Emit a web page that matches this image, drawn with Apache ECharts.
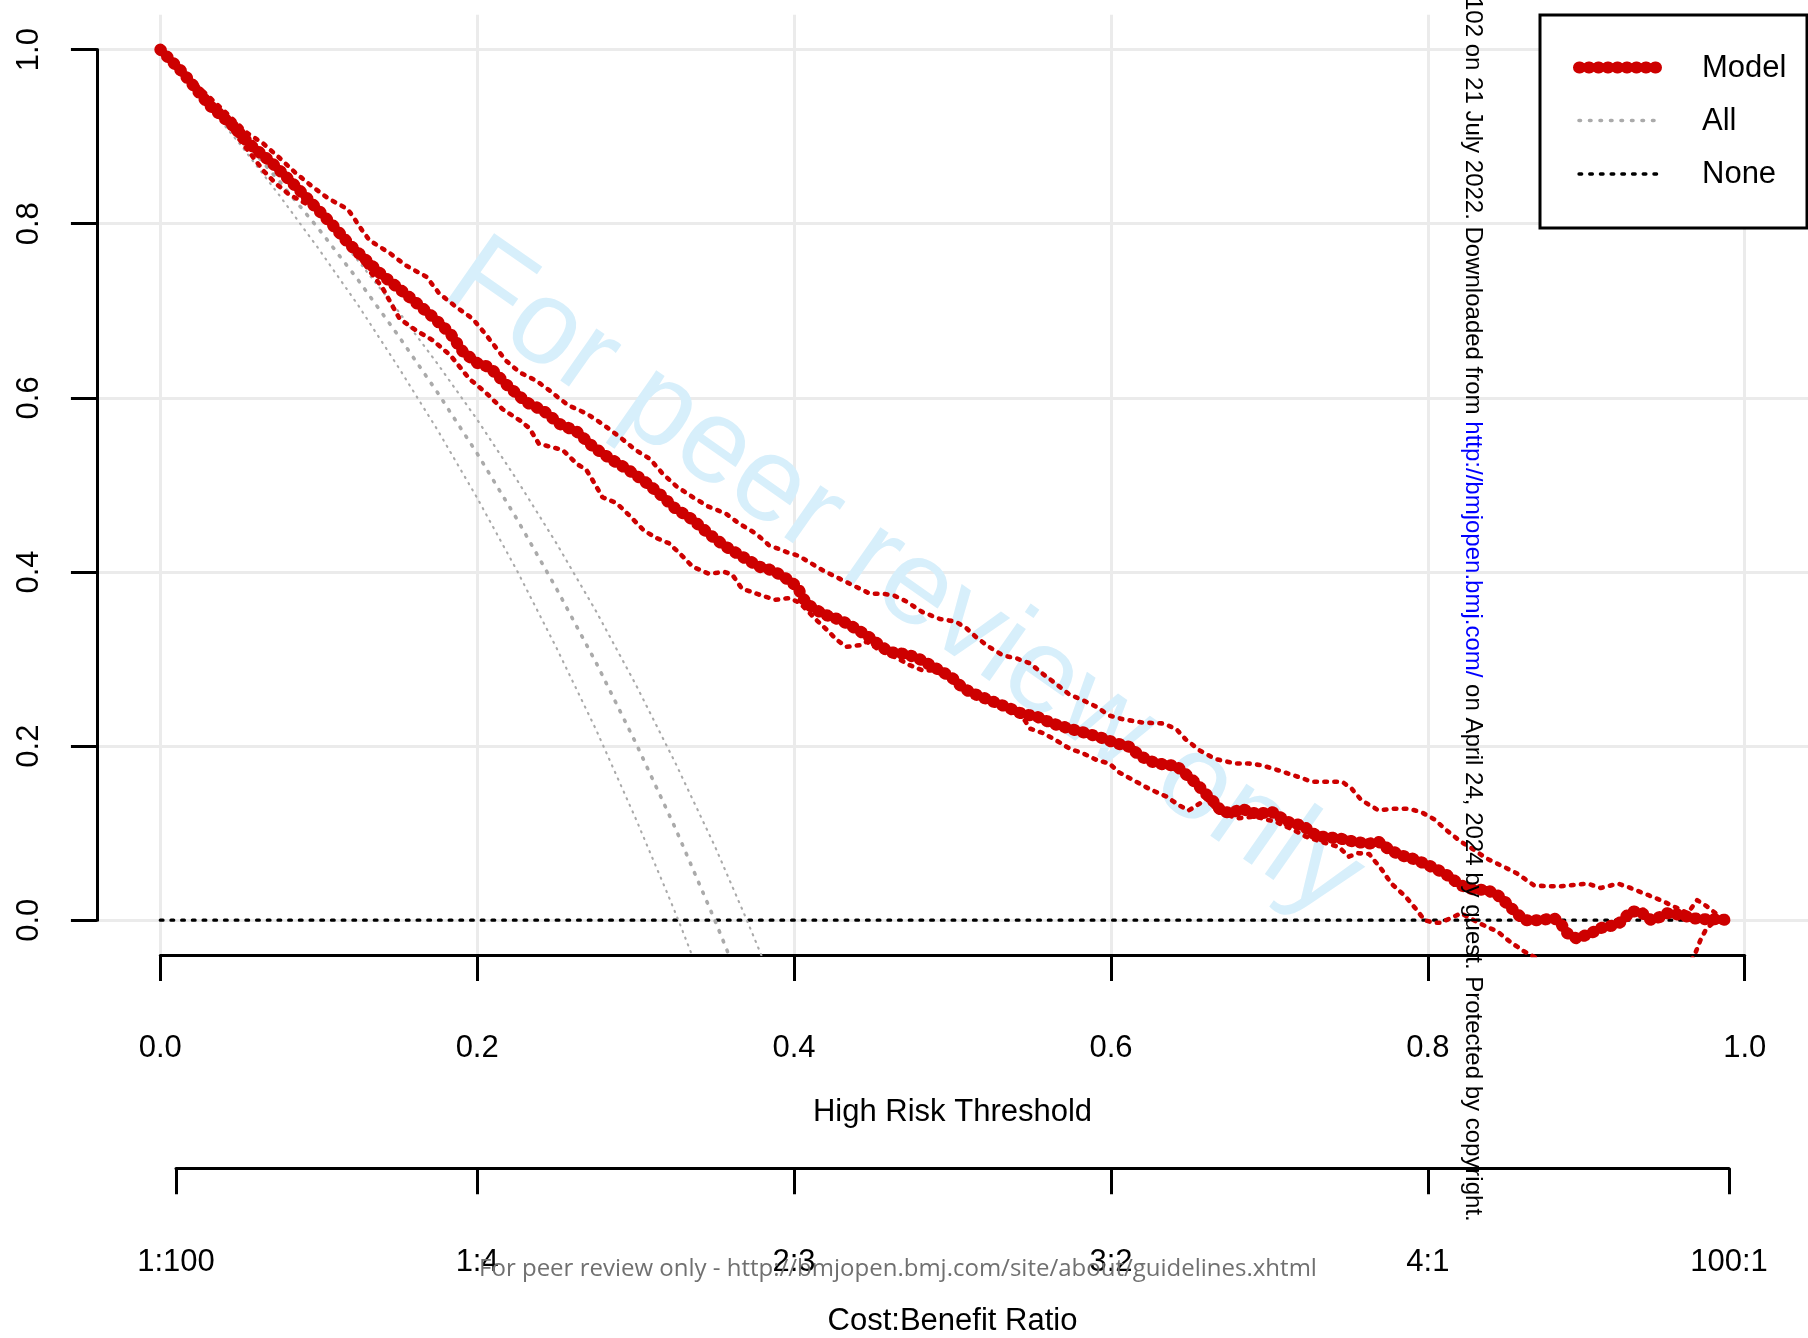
<!DOCTYPE html>
<html><head><meta charset="utf-8">
<script src="https://cdn.jsdelivr.net/npm/echarts@6/dist/echarts.min.js"></script>
<style>html,body{margin:0;padding:0;background:#fff}#c{width:1808px;height:1338px}</style>
</head><body><div id="c"></div>
<script>
// ---------- data ----------
const thresholdTicks = [0, 0.2, 0.4, 0.6, 0.8, 1.0];
const cbRatioLabels = ['1:100', '1:4', '2:3', '3:2', '4:1', '100:1'];
const cbRatioPositions = [1/101, 0.2, 0.4, 0.6, 0.8, 100/101];
const legendLabels = ['Model', 'All', 'None'];

const modelNB = [[0,1.0],[0.014,0.974],[0.031,0.936],[0.048,0.909],[0.056,0.892],[0.071,0.869],[0.086,0.842],[0.098,0.819],[0.109,0.798],[0.119,0.777],[0.130,0.758],[0.140,0.741],[0.151,0.725],[0.161,0.710],[0.172,0.693],[0.183,0.674],[0.191,0.653],[0.200,0.640],[0.208,0.635],[0.218,0.616],[0.231,0.595],[0.242,0.585],[0.252,0.570],[0.263,0.561],[0.273,0.544],[0.284,0.530],[0.294,0.519],[0.305,0.505],[0.315,0.490],[0.325,0.473],[0.336,0.460],[0.346,0.444],[0.357,0.429],[0.367,0.418],[0.378,0.406],[0.386,0.402],[0.393,0.395],[0.397,0.390],[0.402,0.383],[0.406,0.369],[0.412,0.358],[0.421,0.350],[0.429,0.345],[0.437,0.337],[0.446,0.327],[0.454,0.316],[0.460,0.308],[0.469,0.306],[0.477,0.302],[0.486,0.293],[0.494,0.285],[0.500,0.278],[0.507,0.266],[0.515,0.259],[0.523,0.253],[0.534,0.245],[0.544,0.237],[0.553,0.234],[0.563,0.226],[0.574,0.220],[0.584,0.215],[0.595,0.209],[0.602,0.204],[0.612,0.199],[0.618,0.189],[0.626,0.182],[0.635,0.178],[0.641,0.178],[0.647,0.168],[0.654,0.157],[0.660,0.145],[0.666,0.134],[0.670,0.124],[0.677,0.124],[0.683,0.128],[0.689,0.123],[0.698,0.123],[0.702,0.124],[0.708,0.117],[0.714,0.111],[0.721,0.109],[0.727,0.100],[0.733,0.096],[0.744,0.094],[0.754,0.090],[0.763,0.088],[0.769,0.090],[0.775,0.082],[0.782,0.075],[0.790,0.071],[0.798,0.065],[0.804,0.060],[0.812,0.052],[0.821,0.040],[0.829,0.035],[0.837,0.035],[0.844,0.029],[0.850,0.019],[0.856,0.008],[0.861,0.000],[0.869,0.000],[0.880,0.002],[0.884,-0.004],[0.888,-0.015],[0.894,-0.021],[0.903,-0.015],[0.909,-0.009],[0.917,-0.006],[0.922,-0.002],[0.928,0.010],[0.934,0.010],[0.941,0.000],[0.947,0.004],[0.951,0.008],[0.960,0.006],[0.968,0.002],[0.976,0.001],[0.985,0.001],[0.989,0.000]];

const modelUpper = [[0,1.0],[0.02,0.964],[0.04,0.930],[0.055,0.904],[0.065,0.892],[0.075,0.876],[0.085,0.859],[0.095,0.844],[0.106,0.829],[0.118,0.817],[0.121,0.810],[0.126,0.796],[0.132,0.781],[0.145,0.766],[0.155,0.752],[0.168,0.739],[0.176,0.720],[0.187,0.704],[0.197,0.691],[0.204,0.676],[0.210,0.662],[0.218,0.643],[0.227,0.629],[0.237,0.620],[0.246,0.608],[0.252,0.599],[0.258,0.591],[0.269,0.582],[0.279,0.570],[0.290,0.555],[0.300,0.540],[0.309,0.530],[0.317,0.513],[0.326,0.498],[0.336,0.486],[0.346,0.475],[0.357,0.467],[0.365,0.456],[0.376,0.444],[0.384,0.431],[0.395,0.423],[0.402,0.419],[0.408,0.413],[0.418,0.402],[0.429,0.392],[0.439,0.383],[0.448,0.375],[0.456,0.375],[0.463,0.373],[0.471,0.366],[0.481,0.354],[0.492,0.346],[0.502,0.343],[0.509,0.335],[0.515,0.325],[0.523,0.314],[0.532,0.304],[0.540,0.301],[0.549,0.295],[0.557,0.283],[0.565,0.272],[0.574,0.259],[0.582,0.253],[0.591,0.245],[0.599,0.235],[0.607,0.231],[0.620,0.227],[0.633,0.226],[0.641,0.220],[0.647,0.208],[0.656,0.195],[0.666,0.185],[0.679,0.180],[0.687,0.180],[0.695,0.178],[0.706,0.172],[0.716,0.166],[0.727,0.159],[0.737,0.159],[0.746,0.159],[0.752,0.151],[0.758,0.138],[0.769,0.126],[0.777,0.128],[0.788,0.128],[0.796,0.124],[0.804,0.116],[0.812,0.103],[0.821,0.090],[0.829,0.081],[0.837,0.071],[0.846,0.063],[0.856,0.054],[0.867,0.040],[0.875,0.039],[0.884,0.039],[0.901,0.042],[0.909,0.037],[0.920,0.042],[0.928,0.037],[0.939,0.029],[0.947,0.023],[0.955,0.016],[0.964,0.008],[0.970,0.023],[0.976,0.016],[0.983,0.006],[0.989,0.000]];

const modelLower = [[0,1.0],[0.02,0.958],[0.04,0.920],[0.055,0.885],[0.065,0.861],[0.073,0.846],[0.081,0.834],[0.092,0.823],[0.103,0.811],[0.115,0.789],[0.124,0.766],[0.132,0.746],[0.140,0.727],[0.147,0.704],[0.151,0.691],[0.161,0.678],[0.172,0.666],[0.183,0.649],[0.195,0.622],[0.206,0.605],[0.216,0.587],[0.227,0.574],[0.233,0.565],[0.239,0.547],[0.246,0.544],[0.254,0.540],[0.263,0.524],[0.269,0.517],[0.273,0.505],[0.279,0.486],[0.288,0.479],[0.296,0.465],[0.305,0.448],[0.313,0.439],[0.321,0.433],[0.328,0.421],[0.336,0.406],[0.346,0.398],[0.356,0.400],[0.361,0.397],[0.367,0.381],[0.378,0.374],[0.388,0.368],[0.397,0.370],[0.402,0.366],[0.406,0.360],[0.414,0.345],[0.421,0.333],[0.427,0.322],[0.433,0.314],[0.442,0.316],[0.446,0.320],[0.454,0.310],[0.465,0.301],[0.473,0.293],[0.481,0.287],[0.488,0.287],[0.496,0.280],[0.505,0.268],[0.515,0.259],[0.525,0.249],[0.536,0.241],[0.544,0.234],[0.549,0.220],[0.557,0.215],[0.565,0.207],[0.574,0.197],[0.582,0.192],[0.591,0.184],[0.599,0.180],[0.605,0.170],[0.614,0.161],[0.624,0.151],[0.635,0.142],[0.643,0.132],[0.649,0.126],[0.656,0.134],[0.660,0.140],[0.666,0.128],[0.679,0.117],[0.691,0.119],[0.704,0.113],[0.716,0.103],[0.723,0.096],[0.733,0.090],[0.744,0.084],[0.750,0.073],[0.756,0.077],[0.763,0.076],[0.771,0.058],[0.777,0.042],[0.786,0.027],[0.792,0.014],[0.798,0.000],[0.804,-0.003],[0.808,-0.003],[0.814,0.002],[0.821,0.008],[0.833,-0.004],[0.844,-0.013],[0.852,-0.025],[0.861,-0.036],[0.867,-0.042],[0.885,-0.060],[0.920,-0.075],[0.950,-0.065],[0.965,-0.048],[0.968,-0.042],[0.972,-0.023],[0.976,-0.009],[0.981,-0.002],[0.989,0.000]];

const allNB = [[0,1.0],[0.02,0.962],[0.05,0.902],[0.075,0.849],[0.1,0.794],[0.125,0.735],[0.15,0.672],[0.175,0.606],[0.2,0.536],[0.225,0.461],[0.25,0.381],[0.275,0.296],[0.3,0.204],[0.325,0.106],[0.35,0.0],[0.36,-0.045]];
const allUpper = [[0,1.0],[0.02,0.965],[0.05,0.911],[0.075,0.862],[0.1,0.811],[0.125,0.757],[0.15,0.700],[0.175,0.639],[0.2,0.575],[0.225,0.506],[0.25,0.433],[0.275,0.355],[0.3,0.271],[0.325,0.181],[0.35,0.085],[0.37,0.001],[0.38,-0.043]];
const allLower = [[0,1.0],[0.02,0.958],[0.05,0.892],[0.075,0.833],[0.1,0.771],[0.125,0.706],[0.15,0.636],[0.175,0.563],[0.2,0.485],[0.225,0.402],[0.25,0.313],[0.275,0.219],[0.3,0.117],[0.32,0.031],[0.327,0.0],[0.336,-0.042]];
const noneNB = [[0,0],[0.989,0]];

// ---------- layout ----------
const FONT = '"Liberation Sans", Arial, Helvetica, sans-serif';
const X0 = 160.3, XS = 1584.4, Y0 = 920.2, YS = 870.6;
const RED = '#cd0000', GRAY = '#aaaaaa';
const styles = {
  model: {color: RED, width: 12, type: [1, 8.5], cap: 'round'},
  ci: {color: RED, width: 4.6, type: [2.6, 7.4], cap: 'round'},
  all: {color: GRAY, width: 3.6, type: [1.5, 9], cap: 'round'},
  allci: {color: GRAY, width: 2.1, type: [1.2, 6], cap: 'round'},
  none: {color: '#000', width: 3.3, type: [2.7, 8], cap: 'round'}
};

const chart = echarts.init(document.getElementById('c'), null, {renderer: 'canvas', width: 1808, height: 1338});
const gridBase = {containLabel: false, outerBoundsMode: 'none', show: false};
const labelFmt = v => v.toFixed(1);
const axisTxt = {fontSize: 31, fontFamily: FONT, color: '#000'};

function lineSeries(name, data, st, z) {
  return {name, type: 'line', xAxisIndex: 0, yAxisIndex: 0, data, showSymbol: false, symbol: 'none',
    clip: true, z, silent: true, animation: false,
    lineStyle: {color: st.color, width: st.width, type: st.type, cap: st.cap, join: 'round'}};
}

function legendSample(y, st) {
  return {type: 'line', z: 20, shape: {x1: 1579, y1: y, x2: 1661, y2: y},
    style: {stroke: st.color, lineWidth: st.width, lineDash: st.type, lineCap: st.cap}};
}

const option = {
  backgroundColor: '#fff',
  animation: false,
  grid: [
    Object.assign({left: X0 - 0.04*XS, top: Y0 - 1.04*YS, width: 1.08*XS, height: 1.08*YS}, gridBase),
    Object.assign({left: X0, top: Y0 - 1.04*YS, width: XS, height: 1.08*YS}, gridBase),
    Object.assign({left: X0 - 0.04*XS, top: Y0 - YS, width: 1.08*XS, height: YS}, gridBase),
    Object.assign({left: X0 + XS/101, top: 1100, width: XS*99/101, height: 68.2}, gridBase)
  ],
  xAxis: [
    {gridIndex: 0, type: 'value', min: -0.04, max: 1.04, show: false},
    {gridIndex: 1, type: 'value', min: 0, max: 1, interval: 0.2, position: 'bottom',
      axisLine: {show: true, onZero: false, lineStyle: {color: '#000', width: 3}},
      axisTick: {show: true, length: 26, lineStyle: {color: '#000', width: 3}},
      axisLabel: Object.assign({show: true, margin: 77.5, formatter: labelFmt}, axisTxt),
      splitLine: {show: true, lineStyle: {color: '#ebebeb', width: 3}},
      name: 'High Risk Threshold', nameLocation: 'middle', nameGap: 141.5, nameTextStyle: axisTxt},
    {gridIndex: 2, type: 'value', min: 0, max: 1, show: false},
    {gridIndex: 3, type: 'value', min: cbRatioPositions[0], max: cbRatioPositions[5], position: 'bottom',
      axisLine: {show: true, onZero: false, lineStyle: {color: '#000', width: 3}},
      axisTick: {show: true, length: 26, customValues: cbRatioPositions, lineStyle: {color: '#000', width: 3}},
      axisLabel: Object.assign({show: true, margin: 78.5, customValues: cbRatioPositions,
        formatter: v => { let best = 0; cbRatioPositions.forEach((p, i) => { if (Math.abs(p - v) < Math.abs(cbRatioPositions[best] - v)) best = i; }); return cbRatioLabels[best]; }}, axisTxt),
      splitLine: {show: false},
      name: 'Cost:Benefit Ratio', nameLocation: 'middle', nameGap: 137.5, nameTextStyle: axisTxt}
  ],
  yAxis: [
    {gridIndex: 0, type: 'value', min: -0.04, max: 1.04, show: false},
    {gridIndex: 1, type: 'value', min: 0, max: 1, show: false},
    {gridIndex: 2, type: 'value', min: 0, max: 1, interval: 0.2, position: 'left',
      axisLine: {show: true, onZero: false, lineStyle: {color: '#000', width: 3}},
      axisTick: {show: true, length: 26, lineStyle: {color: '#000', width: 3}},
      axisLabel: Object.assign({show: true, rotate: 90, margin: 52, formatter: labelFmt}, axisTxt),
      splitLine: {show: true, lineStyle: {color: '#ebebeb', width: 3}}},
    {gridIndex: 3, type: 'value', min: 0, max: 1, show: false}
  ],
  series: [
    lineSeries('None', noneNB, styles.none, 3),
    lineSeries('All lower', allLower, styles.allci, 3),
    lineSeries('All upper', allUpper, styles.allci, 3),
    lineSeries('All', allNB, styles.all, 4),
    lineSeries('Model lower', modelLower, styles.ci, 5),
    lineSeries('Model upper', modelUpper, styles.ci, 5),
    lineSeries('Model', modelNB, styles.model, 6)
  ],
  graphic: [
    {type: 'text', z: 1, x: 903, y: 580, rotation: -35 * Math.PI / 180,
      style: {text: 'For peer review only', font: '120px ' + FONT, fill: '#d7effb', align: 'center', verticalAlign: 'middle'}},
    {type: 'rect', z: 19, shape: {x: 1540, y: 15, width: 267, height: 213},
      style: {fill: '#fff', stroke: '#000', lineWidth: 3}},
    legendSample(67.5, styles.model),
    legendSample(120.5, styles.all),
    legendSample(174, styles.none),
    {type: 'text', z: 20, x: 1702, y: 68, style: {text: legendLabels[0], font: '31px ' + FONT, fill: '#000', align: 'left', verticalAlign: 'middle'}},
    {type: 'text', z: 20, x: 1702, y: 121, style: {text: legendLabels[1], font: '31px ' + FONT, fill: '#000', align: 'left', verticalAlign: 'middle'}},
    {type: 'text', z: 20, x: 1702, y: 174, style: {text: legendLabels[2], font: '31px ' + FONT, fill: '#000', align: 'left', verticalAlign: 'middle'}},
    {type: 'text', z: 30, x: 1473, y: -3, rotation: -Math.PI / 2,
      style: {text: '{a|102 on 21 July 2022. Downloaded from }{b|http://bmjopen.bmj.com/}{a| on April 24, 2024 by guest. Protected by copyright.}',
        font: '24px ' + FONT, align: 'left', verticalAlign: 'middle',
        rich: {a: {fill: '#000', font: '24px ' + FONT}, b: {fill: '#0000ff', font: '24px ' + FONT}}}},
    {type: 'text', z: 30, x: 898, y: 1269.5,
      style: {text: 'For peer review only - http://bmjopen.bmj.com/site/about/guidelines.xhtml', font: '24px "Open Sans", ' + FONT, fill: '#707070', align: 'center', verticalAlign: 'middle'}}
  ]
};
chart.setOption(option);
</script>
</body></html>
